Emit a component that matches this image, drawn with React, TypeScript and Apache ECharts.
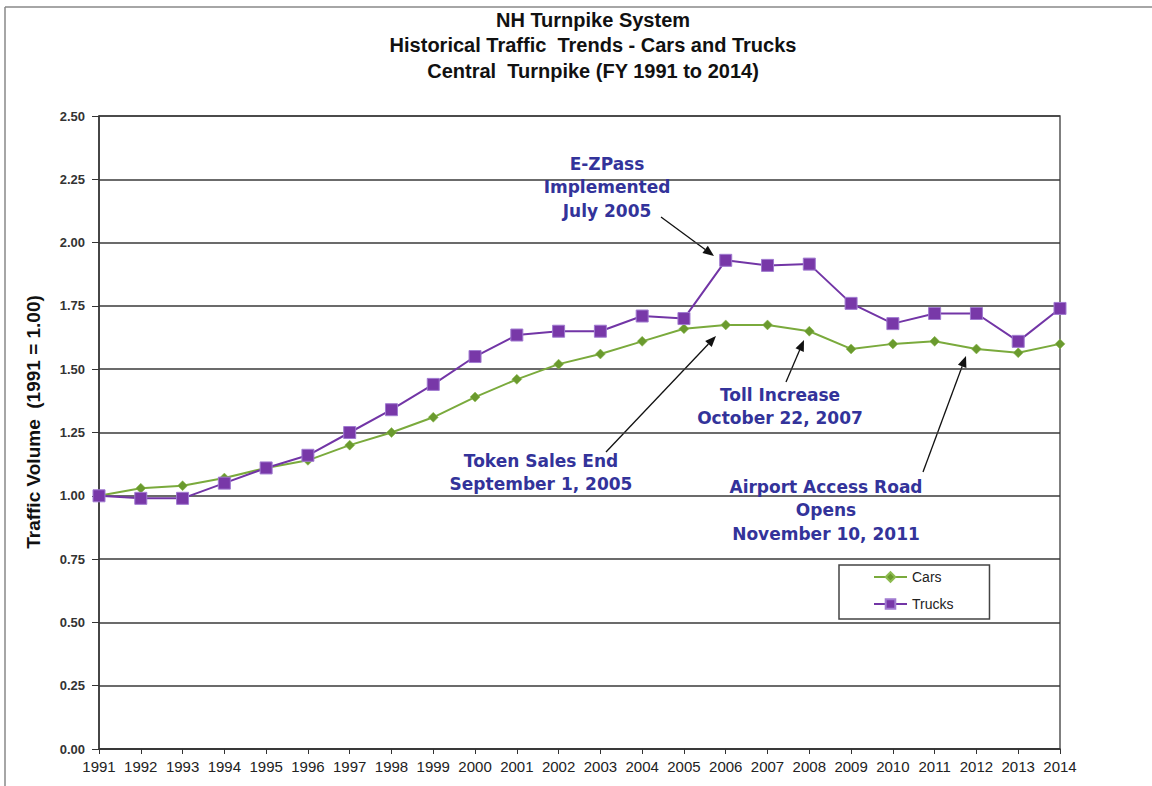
import React, { useEffect, useRef } from "react";
import * as echarts from "echarts";

const years = ["1991","1992","1993","1994","1995","1996","1997","1998","1999","2000","2001","2002","2003","2004","2005","2006","2007","2008","2009","2010","2011","2012","2013","2014"];
const cars = [1.0,1.03,1.04,1.07,1.11,1.14,1.2,1.25,1.31,1.39,1.46,1.52,1.56,1.61,1.66,1.675,1.675,1.65,1.58,1.6,1.61,1.58,1.565,1.6];
const trucks = [1.0,0.99,0.99,1.05,1.11,1.16,1.25,1.34,1.44,1.55,1.635,1.65,1.65,1.71,1.7,1.93,1.91,1.915,1.76,1.68,1.72,1.72,1.61,1.74];
const titleLines = ["NH Turnpike System", "Historical Traffic  Trends - Cars and Trucks", "Central  Turnpike (FY 1991 to 2014)"];
const yAxisTitle = "Traffic Volume  (1991 = 1.00)";
const notes = [
  { text: "E-ZPass\nImplemented\nJuly 2005", x: 607, y: 152, from: [661, 217], to: [714, 256] },
  { text: "Token Sales End\nSeptember 1, 2005", x: 541, y: 449, from: [606, 452], to: [716, 336] },
  { text: "Toll Increase\nOctober 22, 2007", x: 780, y: 383, from: [786, 382], to: [804, 340] },
  { text: "Airport Access Road\nOpens\nNovember 10, 2011", x: 826, y: 475, from: [923, 472], to: [966, 356] },
];

function arrow(from: number[], to: number[]) {
  const [x1, y1] = from;
  const [x2, y2] = to;
  const dx = x2 - x1, dy = y2 - y1;
  const len = Math.sqrt(dx * dx + dy * dy);
  const ux = dx / len, uy = dy / len;
  const hl = 11, hw = 4.5;
  const bx = x2 - ux * hl, by = y2 - uy * hl;
  return [
    { type: "line", shape: { x1, y1, x2: bx, y2: by }, style: { stroke: "#111", lineWidth: 1.3 } },
    {
      type: "polygon",
      shape: { points: [[x2, y2], [bx - uy * hw, by + ux * hw], [bx + uy * hw, by - ux * hw]] },
      style: { fill: "#111" },
    },
  ];
}

export default function App() {
  const ref = useRef<HTMLDivElement>(null);
  useEffect(() => {
    const chart = echarts.init(ref.current!, null, { renderer: "svg" });
    const graphics: any[] = [
      { type: "line", shape: { x1: 5, y1: 7, x2: 1152, y2: 7 }, style: { stroke: "#888", lineWidth: 1.5 } },
      { type: "line", shape: { x1: 5, y1: 7, x2: 5, y2: 786 }, style: { stroke: "#888", lineWidth: 1.5 } },
      {
        type: "text", x: 33, y: 422, rotation: Math.PI / 2,
        style: { text: yAxisTitle, font: "bold 19px 'Liberation Sans', Arial", fill: "#111", textAlign: "center", textVerticalAlign: "middle" },
      },
    ];
    notes.forEach((n) => {
      graphics.push({
        type: "text", x: n.x, y: n.y, z: 10,
        style: { text: n.text, font: "bold 17px 'DejaVu Sans'", fill: "#33339a", textAlign: "center", textVerticalAlign: "top", lineHeight: 23.5 },
      });
      graphics.push(...arrow(n.from, n.to));
    });
    chart.setOption({
      animation: false,
      backgroundColor: "#fff",
      title: {
        text: titleLines.join("\n"),
        left: 588, top: 2, textAlign: "center",
        textStyle: { fontFamily: "'Liberation Sans', Arial", fontWeight: "bold", fontSize: 20, lineHeight: 25.5, color: "#111" },
      },
      grid: { left: 99, right: 92, top: 116, bottom: 37, show: true, borderColor: "#555", borderWidth: 1.5, backgroundColor: "transparent" },
      legend: {
        orient: "vertical", left: 839, top: 565,
        padding: [5, 36, 8, 34], itemGap: 13, itemWidth: 33, itemHeight: 12,
        backgroundColor: "#fff", borderColor: "#444", borderWidth: 1.5,
        textStyle: { fontFamily: "'Liberation Sans', Arial", fontSize: 14, color: "#222" },
        data: ["Cars", "Trucks"],
      },
      xAxis: {
        type: "category", data: years, boundaryGap: false,
        axisLine: { lineStyle: { color: "#333", width: 1.5 } },
        axisTick: { show: true, length: 5, interval: 0, lineStyle: { color: "#333" } },
        axisLabel: { interval: 0, margin: 10, fontFamily: "'Liberation Sans', Arial", fontSize: 15, color: "#222" },
        splitLine: { show: false },
      },
      yAxis: {
        type: "value", min: 0, max: 2.5, interval: 0.25,
        axisLine: { show: true, lineStyle: { color: "#333", width: 1.5 } },
        axisTick: { show: true, length: 7, lineStyle: { color: "#333" } },
        axisLabel: { margin: 14, fontFamily: "'Liberation Sans', Arial", fontWeight: "bold", fontSize: 13, color: "#333", formatter: (v: number) => v.toFixed(2) },
        splitLine: { lineStyle: { color: "#3a3a3a", width: 1.5 } },
      },
      series: [
        {
          name: "Cars", type: "line", data: cars, symbol: "diamond", symbolSize: 10,
          lineStyle: { color: "#7aaa3c", width: 2 },
          itemStyle: { color: "#6a9a2e", borderColor: "#8dbb50", borderWidth: 0.5 },
          z: 3,
        },
        {
          name: "Trucks", type: "line", data: trucks, symbol: "rect", symbolSize: 12,
          lineStyle: { color: "#7235a6", width: 2 },
          itemStyle: { color: "#7838a8", borderColor: "#a07ad0", borderWidth: 1 },
          z: 4,
        },
      ],
      graphic: graphics,
    });
    return () => chart.dispose();
  }, []);
  return <div ref={ref} style={{ position: "fixed", left: 0, top: 0, width: 1152, height: 786 }} />;
}
